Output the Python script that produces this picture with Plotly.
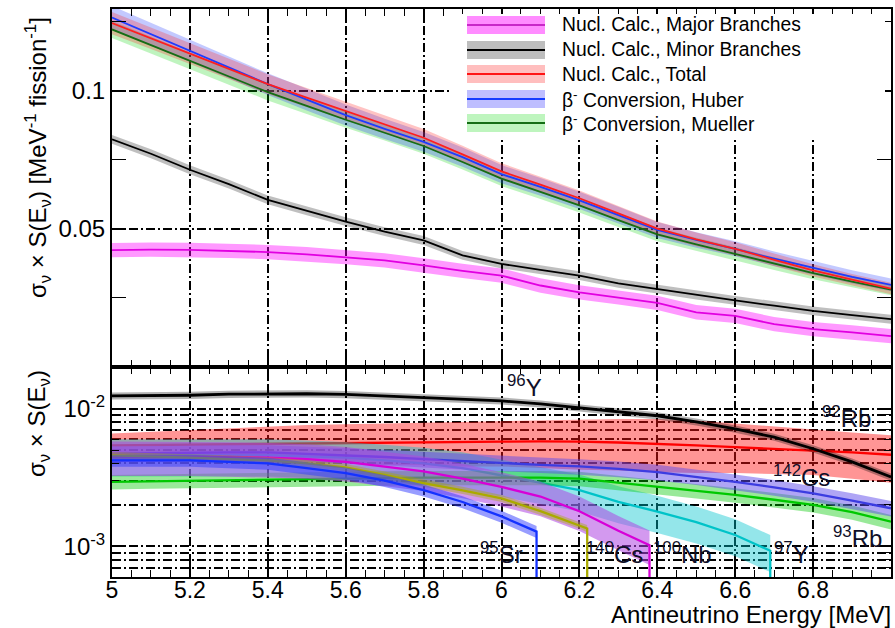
import numpy as np
import plotly.graph_objects as go

# ---------------- data ----------------
# Antineutrino energy grid [MeV]
E = [5.0, 5.1, 5.2, 5.3, 5.4, 5.5, 5.6, 5.7, 5.8, 5.9, 6.0,
     6.1, 6.2, 6.3, 6.4, 6.5, 6.6, 6.7, 6.8, 6.9, 7.0]

# Upper panel: cross-section weighted spectra [MeV^-1 fission^-1]
major = [0.0423, 0.0425, 0.0424, 0.0421, 0.0416, 0.0408, 0.0398, 0.0386, 0.0368, 0.0348, 0.0331,
         0.0295, 0.0270, 0.0252, 0.0232, 0.0198, 0.0185, 0.0155, 0.0137, 0.0125, 0.0112]
minor = [0.0824, 0.0772, 0.0714, 0.0662, 0.0605, 0.0565, 0.0526, 0.0490, 0.0458, 0.0404, 0.0373,
         0.0352, 0.0331, 0.0303, 0.0282, 0.0260, 0.0241, 0.0222, 0.0203, 0.0188, 0.0173]
total = [0.1245, 0.1190, 0.1134, 0.1080, 0.1024, 0.0975, 0.0927, 0.0878, 0.0830, 0.0770, 0.0708,
         0.0660, 0.0611, 0.0556, 0.0501, 0.0462, 0.0428, 0.0388, 0.0350, 0.0316, 0.0284]
huber = [0.1265, 0.1205, 0.1144, 0.1085, 0.1024, 0.0968, 0.0912, 0.0862, 0.0815, 0.0760, 0.0698,
         0.0652, 0.0603, 0.0550, 0.0496, 0.0460, 0.0428, 0.0392, 0.0358, 0.0326, 0.0297]
mueller = [0.1222, 0.1165, 0.1108, 0.1052, 0.0995, 0.0945, 0.0895, 0.0848, 0.0800, 0.0742, 0.0682,
           0.0634, 0.0585, 0.0532, 0.0480, 0.0444, 0.0410, 0.0374, 0.0340, 0.0309, 0.0280]
major_err = 0.0026
minor_err = 0.0016
total_err = [0.0040, 0.0039, 0.0038, 0.0037, 0.0036, 0.0035, 0.0034, 0.0033, 0.0032, 0.0031, 0.0030,
             0.0029, 0.0028, 0.0027, 0.0026, 0.0025, 0.0024, 0.0023, 0.0022, 0.0021, 0.0021]
huber_err = [0.0042, 0.0041, 0.0040, 0.0040, 0.0039, 0.0039, 0.0038, 0.0037, 0.0036, 0.0035, 0.0033,
             0.0032, 0.0031, 0.0030, 0.0029, 0.0028, 0.0027, 0.0026, 0.0025, 0.0024, 0.0023]
mueller_err = [0.0031, 0.0031, 0.0030, 0.0030, 0.0030, 0.0029, 0.0029, 0.0028, 0.0028, 0.0027, 0.0027,
               0.0026, 0.0026, 0.0025, 0.0025, 0.0024, 0.0024, 0.0023, 0.0022, 0.0021, 0.0020]

# Lower panel: individual branches
y96 = [0.01234, 0.0124, 0.01248, 0.0127, 0.01282, 0.0128, 0.01265, 0.0123, 0.01194, 0.0117, 0.01136,
       0.0108, 0.01012, 0.0095, 0.00886, 0.0080, 0.00711, 0.0062, 0.00511, 0.0041, 0.00319]
rb92 = [0.0054, 0.00544, 0.00548, 0.00552, 0.00557, 0.0056, 0.00564, 0.00567, 0.0057, 0.00573, 0.00576,
        0.00577, 0.00576, 0.00567, 0.00555, 0.0054, 0.00524, 0.0051, 0.00496, 0.0048, 0.00462]
rb92_hi = [0.0066, 0.0068, 0.0070, 0.0072, 0.0074, 0.0076, 0.0077, 0.0078, 0.0079, 0.0080, 0.0081,
           0.0082, 0.0083, 0.0084, 0.0084, 0.0082, 0.0078, 0.0074, 0.0070, 0.0067, 0.0064]
rb92_lo = [0.0041, 0.0041, 0.0041, 0.0041, 0.0040, 0.0040, 0.0040, 0.0039, 0.0039, 0.0038, 0.0038,
           0.0037, 0.0036, 0.00355, 0.00345, 0.0034, 0.0034, 0.00335, 0.0033, 0.0031, 0.0029]
cs142 = [0.0047, 0.00475, 0.0048, 0.0048, 0.0048, 0.0047, 0.0046, 0.00445, 0.0043, 0.00415, 0.0040,
         0.0039, 0.0038, 0.00365, 0.00346, 0.0032, 0.00294, 0.00268, 0.00242, 0.00215, 0.00189]
rb93 = [0.00294, 0.00297, 0.0030, 0.00304, 0.00307, 0.00309, 0.0031, 0.00313, 0.00315, 0.00316, 0.00317,
        0.00315, 0.0031, 0.0029, 0.0027, 0.00253, 0.00236, 0.00218, 0.0020, 0.00177, 0.00151]

E_sr95 = [5.0, 5.1, 5.2, 5.3, 5.4, 5.5, 5.6, 5.7, 5.8, 5.9, 6.0, 6.09]
sr95 = [0.0042, 0.0042, 0.0042, 0.0041, 0.0040, 0.0037, 0.0034, 0.0030, 0.00256, 0.0021, 0.00165, 0.00128]
E_cs140 = [5.0, 5.1, 5.2, 5.3, 5.4, 5.5, 5.6, 5.7, 5.8, 5.9, 6.0, 6.1, 6.2, 6.22]
cs140 = [0.00457, 0.0045, 0.0044, 0.0043, 0.0042, 0.0040, 0.00374, 0.0033, 0.00288, 0.00255, 0.00223,
         0.0018, 0.00143, 0.00135]
E_nb100 = [5.0, 5.1, 5.2, 5.3, 5.4, 5.5, 5.6, 5.7, 5.8, 5.9, 6.0, 6.1, 6.2, 6.3, 6.38]
nb100 = [0.0045, 0.0045, 0.0045, 0.00445, 0.0044, 0.0043, 0.0041, 0.0038, 0.0035, 0.0031, 0.0027,
         0.0023, 0.0018, 0.0013, 0.00102]
E_y97 = [5.0, 5.1, 5.2, 5.3, 5.4, 5.5, 5.6, 5.7, 5.8, 5.9, 6.0, 6.1, 6.2, 6.3, 6.4, 6.5, 6.6, 6.69]
y97 = [0.0046, 0.0046, 0.0046, 0.0046, 0.0046, 0.0045, 0.0044, 0.0042, 0.0040, 0.0037, 0.00328,
       0.0029, 0.00256, 0.0021, 0.00179, 0.0015, 0.00121, 0.00093]

# relative uncertainties of the branch bands
rel_y96, rel_cs142, rel_rb93 = 0.06, 0.13, 0.12
rel_sr95, rel_cs140, rel_nb100, rel_y97 = 0.10, 0.06, 0.28, 0.30

x_ticks = [5.0, 5.2, 5.4, 5.6, 5.8, 6.0, 6.2, 6.4, 6.6, 6.8, 7.0]
x_tick_text = ["5", "5.2", "5.4", "5.6", "5.8", "6", "6.2", "6.4", "6.6", "6.8", "7"]

legend_labels = ["Nucl. Calc., Major Branches", "Nucl. Calc., Minor Branches", "Nucl. Calc., Total",
                 "β<sup>-</sup> Conversion, Huber", "β<sup>-</sup> Conversion, Mueller"]
branch_labels = ["<sup>96</sup>Y", "<sup>92</sup>Rb", "<sup>142</sup>Cs", "<sup>93</sup>Rb",
                 "<sup>95</sup>Sr", "<sup>140</sup>Cs", "<sup>100</sup>Nb", "<sup>97</sup>Y"]
# label anchor points (energy, value)
branch_label_pos = [(6.06, 0.0146), (6.885, 0.0087), (6.77, 0.00325), (6.915, 0.00117),
                    (6.0, 0.00089), (6.29, 0.00089), (6.465, 0.00089), (6.745, 0.00089)]

# ---------------- figure ----------------
W, H = 895, 628
ML, MR, MT, MB = 112, 4, 9, 51
PW, PH = W - ML - MR, H - MT - MB
SPLIT = (577 - 367) / PH  # lower panel fraction

FONT = "Liberation Sans, Arial, Helvetica, sans-serif"
GRID_DASH = "9px,3px,2px,3px"

fig = go.Figure()


def band(x, lo, hi, color, xa, ya):
    x = list(x)
    fig.add_trace(go.Scatter(x=x + x[::-1], y=list(hi) + list(lo)[::-1], fill="toself",
                             fillcolor=color, line=dict(width=0), mode="lines",
                             hoverinfo="skip", showlegend=False, xaxis=xa, yaxis=ya))


def curve(x, y, color, width, xa, ya):
    fig.add_trace(go.Scatter(x=list(x), y=list(y), mode="lines", line=dict(color=color, width=width),
                             showlegend=False, xaxis=xa, yaxis=ya))


# upper panel
top = [
    (mueller, mueller_err, "rgba(0,210,0,0.25)", "rgb(20,110,20)"),
    (huber, huber_err, "rgba(40,60,255,0.28)", "rgb(30,60,255)"),
    (total, total_err, "rgba(255,40,40,0.28)", "rgb(255,30,30)"),
    (minor, [minor_err] * len(E), "rgba(0,0,0,0.25)", "rgb(0,0,0)"),
    (major, [major_err] * len(E), "rgba(255,0,255,0.40)", "rgb(225,0,225)"),
]
for vals, err, bc, lc in top:
    v, e = np.array(vals), np.array(err)
    band(E, v - e, v + e, bc, "x2", "y2")
for vals, err, bc, lc in top:
    curve(E, vals, lc, 1.8, "x2", "y2")

# lower panel
FLOOR = 1e-6
lower = [
    (E, rb92, rb92_lo, rb92_hi, "rgba(255,20,20,0.45)", "rgb(255,0,0)", False),
    (E_y97, y97, None, rel_y97, "rgba(0,195,205,0.42)", "rgb(0,195,200)", True),
    (E, rb93, None, rel_rb93, "rgba(0,200,0,0.40)", "rgb(0,200,0)", False),
    (E, cs142, None, rel_cs142, "rgba(95,75,235,0.50)", "rgb(60,60,225)", False),
    (E_nb100, nb100, None, rel_nb100, "rgba(175,70,225,0.55)", "rgb(215,0,215)", True),
    (E_cs140, cs140, None, rel_cs140, "rgba(170,170,0,0.40)", "rgb(170,170,0)", True),
    (E_sr95, sr95, None, rel_sr95, "rgba(50,60,255,0.50)", "rgb(20,50,255)", True),
    (E, y96, None, rel_y96, "rgba(0,0,0,0.30)", "rgb(0,0,0)", False),
]
for x, vals, lo, hi, bc, lc, cut in lower:
    v = np.array(vals)
    if lo is None:
        band(x, v * (1 - hi), v * (1 + hi), bc, "x", "y")
    else:
        band(x, lo, hi, bc, "x", "y")
    xs, ys = list(x), list(vals)
    if cut:  # spectrum endpoint: drop to zero
        xs.append(x[-1])
        ys.append(FLOOR)
    curve(xs, ys, lc, 2.8 if lc == "rgb(0,0,0)" else 2.3, "x", "y")

# ---------------- axes ----------------
axis_common = dict(
    showline=True, linecolor="black", linewidth=2, mirror="ticks",
    ticks="inside", tickcolor="black", tickwidth=1.5, automargin=False,
    showgrid=True, gridcolor="black", gridwidth=1.5, griddash=GRID_DASH,
    zeroline=False, tickfont=dict(family=FONT, size=24, color="black"),
)
xcommon = dict(axis_common, range=[5, 7], tickmode="array", tickvals=x_ticks, ticktext=x_tick_text,
               ticklen=14, tickangle=0,
               minor=dict(ticks="inside", tickmode="linear", dtick=0.05, tick0=5, ticklen=7,
                          tickcolor="black", tickwidth=1.3, showgrid=False))
fig.update_layout(
    xaxis=dict(xcommon, anchor="y", ticklabelstandoff=-9, tickfont=dict(family=FONT, size=23, color="black")),
    xaxis2=dict(xcommon, anchor="y2", matches="x", showticklabels=False),
    yaxis=dict(axis_common, type="log", domain=[0, SPLIT], anchor="x",
               range=[np.log10(6e-4), np.log10(2e-2)],
               tickmode="array", tickvals=[1e-3, 1e-2],
               ticktext=["10<sup>-3</sup>", "10<sup>-2</sup>"], ticklen=14,
               minor=dict(tickmode="array",
                          tickvals=[6e-4, 7e-4, 8e-4, 9e-4, 2e-3, 3e-3, 4e-3, 5e-3, 6e-3, 7e-3, 8e-3, 9e-3, 2e-2],
                          ticks="inside", ticklen=7, tickcolor="black", tickwidth=1.3,
                          showgrid=True, gridcolor="black", gridwidth=1.5, griddash=GRID_DASH)),
    yaxis2=dict(axis_common, domain=[SPLIT, 1], anchor="x2", range=[0, 0.1296],
                tickmode="array", tickvals=[0.05, 0.1], ticktext=["0.05", "0.1"], ticklen=14,
                minor=dict(tickmode="linear", tick0=0, dtick=0.025, ticks="inside", ticklen=14,
                           tickcolor="black", tickwidth=1.3, showgrid=False)),
    width=W, height=H, margin=dict(l=ML, r=MR, t=MT, b=MB, autoexpand=False),
    paper_bgcolor="white", plot_bgcolor="white", showlegend=False,
    font=dict(family=FONT, color="black"),
)


def px(x):
    return (x - ML) / PW


def py(y):
    return 1 - (y - MT) / PH


shapes = []
# legend box
shapes.append(dict(type="rect", xref="paper", yref="paper", x0=px(452), x1=px(885), y0=py(137), y1=py(14),
                   fillcolor="white", line=dict(width=0), layer="above"))
leg_style = [("rgb(255,140,255)", "rgb(200,40,200)"), ("rgb(190,190,190)", "rgb(0,0,0)"),
             ("rgb(255,190,190)", "rgb(255,20,20)"), ("rgb(190,190,255)", "rgb(20,60,255)"),
             ("rgb(190,245,190)", "rgb(20,110,20)")]
rows = [25, 50, 74, 99, 123]
annotations = []
for (bc, lc), yc, lab in zip(leg_style, rows, legend_labels):
    shapes.append(dict(type="rect", xref="paper", yref="paper", x0=px(467), x1=px(545),
                       y0=py(yc + 9), y1=py(yc - 9), fillcolor=bc, line=dict(width=0), layer="above"))
    shapes.append(dict(type="line", xref="paper", yref="paper", x0=px(467), x1=px(545),
                       y0=py(yc), y1=py(yc), line=dict(color=lc, width=2), layer="above"))
    annotations.append(dict(xref="paper", yref="paper", x=px(560), y=py(yc), text=lab, showarrow=False,
                            xanchor="left", yanchor="middle", font=dict(family=FONT, size=19.3, color="black")))

for lab, (ex, ev) in zip(branch_labels, branch_label_pos):
    annotations.append(dict(xref="x", yref="y", x=ex, y=np.log10(ev), text=lab, showarrow=False,
                            xanchor="center", yanchor="middle",
                            font=dict(family=FONT, size=24, color="rgb(15,15,40)")))

annotations.append(dict(xref="paper", yref="paper", x=px(38), y=py(158), textangle=-90,
                        text="σ<sub>ν</sub> × S(E<sub>ν</sub>) [MeV<sup>-1</sup> fission<sup>-1</sup>]",
                        showarrow=False, xanchor="center", yanchor="middle",
                        font=dict(family=FONT, size=24, color="black")))
annotations.append(dict(xref="paper", yref="paper", x=px(38), y=py(424), textangle=-90,
                        text="σ<sub>ν</sub> × S(E<sub>ν</sub>)",
                        showarrow=False, xanchor="center", yanchor="middle",
                        font=dict(family=FONT, size=24, color="black")))
annotations.append(dict(xref="paper", yref="paper", x=px(893), y=py(614),
                        text="Antineutrino Energy [MeV]", showarrow=False,
                        xanchor="right", yanchor="middle",
                        font=dict(family=FONT, size=24, color="black")))

fig.update_layout(shapes=shapes, annotations=annotations)
fig.write_html("out.html")
